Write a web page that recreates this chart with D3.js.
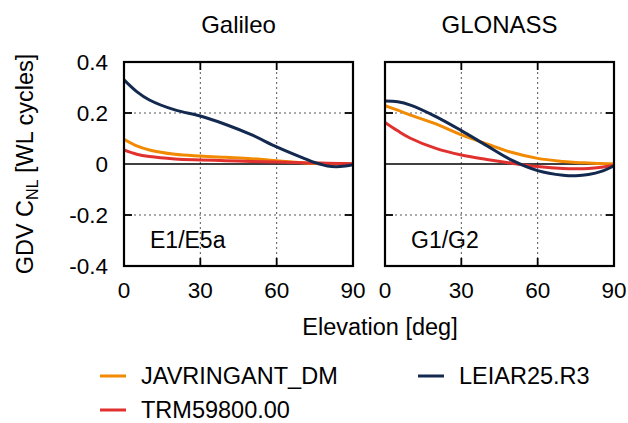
<!DOCTYPE html>
<html lang="en">
<head>
<meta charset="UTF-8">
<title>GDV CNL</title>
<style>
  body { margin: 0; background: #fff; }
  text { font-family: "Liberation Sans", Arial, sans-serif; fill: #000; }
</style>
</head>
<body>
<svg id="chart" width="628" height="423"></svg>
<script src="https://d3js.org/d3.v7.min.js"></script>
<script>
// elevation samples [deg]
var elev = [0, 5, 10, 20, 30, 40, 50, 60, 70, 75, 80, 85, 90];

// Galileo E1/E5a
var galJav  = [0.097, 0.071, 0.055, 0.038, 0.031, 0.026, 0.021, 0.013, 0.005, 0.002, 0.000, 0.000, 0.000];
var galTrm  = [0.055, 0.038, 0.029, 0.020, 0.016, 0.013, 0.010, 0.008, 0.005, 0.004, 0.003, 0.002, 0.001];
var galLeia = [0.330, 0.284, 0.251, 0.212, 0.188, 0.155, 0.115, 0.067, 0.025, 0.006, -0.008, -0.010, -0.003];

// GLONASS G1/G2
var gloJav  = [0.229, 0.211, 0.192, 0.157, 0.114, 0.079, 0.045, 0.022, 0.010, 0.006, 0.004, 0.002, 0.001];
var gloTrm  = [0.163, 0.130, 0.101, 0.061, 0.035, 0.018, 0.003, -0.010, -0.018, -0.019, -0.018, -0.013, -0.005];
var gloLeia = [0.247, 0.244, 0.231, 0.186, 0.131, 0.072, 0.014, -0.026, -0.044, -0.046, -0.041, -0.029, -0.007];

var panels = [
  { title: "Galileo", label: "E1/E5a", series: [galJav, galTrm, galLeia], x0: 124, lx: 150 },
  { title: "GLONASS", label: "G1/G2", series: [gloJav, gloTrm, gloLeia], x0: 385, lx: 411 }
];
var names  = ["JAVRINGANT_DM", "TRM59800.00", "LEIAR25.R3"];
var colors = ["#f18a00", "#e0312f", "#13294f"];
var xTicks = [0, 30, 60, 90];
var yTicks = [-0.4, -0.2, 0, 0.2, 0.4];

var svg = d3.select("#chart");
var pw = 229, pTop = 62, pBot = 266, tk = 8;

var y = d3.scaleLinear().domain([-0.4, 0.4]).range([pBot, pTop]);

panels.forEach(function(p, i) {
  var x = d3.scaleLinear().domain([0, 90]).range([p.x0, p.x0 + pw]);
  var g = svg.append("g");

  // dashed grid
  g.selectAll(".gx").data([30, 60]).enter().append("line")
    .attr("x1", d => x(d)).attr("x2", d => x(d))
    .attr("y1", pTop).attr("y2", pBot)
    .attr("stroke", "#444").attr("stroke-width", 0.9).attr("stroke-dasharray", "2,3");
  g.selectAll(".gy").data([-0.2, 0.2]).enter().append("line")
    .attr("x1", p.x0).attr("x2", p.x0 + pw)
    .attr("y1", d => y(d)).attr("y2", d => y(d))
    .attr("stroke", "#444").attr("stroke-width", 0.9).attr("stroke-dasharray", "2,3");

  // inward ticks on all four sides
  [30, 60].forEach(function(t) {
    g.append("line").attr("x1", x(t)).attr("x2", x(t)).attr("y1", pTop).attr("y2", pTop + tk).attr("stroke", "#000").attr("stroke-width", 1.8);
    g.append("line").attr("x1", x(t)).attr("x2", x(t)).attr("y1", pBot).attr("y2", pBot - tk).attr("stroke", "#000").attr("stroke-width", 1.8);
  });
  [-0.2, 0.2].forEach(function(t) {
    g.append("line").attr("x1", p.x0).attr("x2", p.x0 + tk).attr("y1", y(t)).attr("y2", y(t)).attr("stroke", "#000").attr("stroke-width", 1.8);
    g.append("line").attr("x1", p.x0 + pw).attr("x2", p.x0 + pw - tk).attr("y1", y(t)).attr("y2", y(t)).attr("stroke", "#000").attr("stroke-width", 1.8);
  });

  // zero line
  g.append("line").attr("x1", p.x0).attr("x2", p.x0 + pw)
    .attr("y1", y(0)).attr("y2", y(0)).attr("stroke", "#000").attr("stroke-width", 1.5);

  svg.append("clipPath").attr("id", "clip" + i).append("rect")
    .attr("x", p.x0).attr("y", pTop).attr("width", pw).attr("height", pBot - pTop);

  var line = d3.line()
    .x((d, k) => x(elev[k]))
    .y(d => y(d))
    .curve(d3.curveCatmullRom.alpha(0.5));

  p.series.forEach(function(s, k) {
    g.append("path").datum(s)
      .attr("clip-path", "url(#clip" + i + ")")
      .attr("fill", "none")
      .attr("stroke", colors[k])
      .attr("stroke-width", 3)
      .attr("d", line);
  });

  // frame
  g.append("rect").attr("x", p.x0).attr("y", pTop).attr("width", pw).attr("height", pBot - pTop)
    .attr("fill", "none").attr("stroke", "#000").attr("stroke-width", 2.2);

  // x tick labels
  g.selectAll(".xl").data(xTicks).enter().append("text")
    .attr("x", d => x(d)).attr("y", 298)
    .attr("text-anchor", "middle").attr("font-size", 22.5)
    .text(d => d);

  // panel title
  g.append("text").attr("x", p.x0 + pw / 2).attr("y", 33)
    .attr("text-anchor", "middle").attr("font-size", 24).text(p.title);

  // signal label
  g.append("text").attr("x", p.lx).attr("y", 248)
    .attr("font-size", 23).text(p.label);
});

// y tick labels (plain hyphen for negatives)
svg.selectAll(".yl").data(yTicks).enter().append("text")
  .attr("x", 108).attr("y", d => y(d) + 8)
  .attr("text-anchor", "end").attr("font-size", 22.5)
  .text(d => d === 0 ? "0" : d.toFixed(1));

// y axis title
var yt = svg.append("text")
  .attr("transform", "translate(33,164) rotate(-90)")
  .attr("text-anchor", "middle").attr("font-size", 23.5);
yt.append("tspan").text("GDV C");
yt.append("tspan").attr("font-size", 16).attr("dy", 5).text("NL");
yt.append("tspan").attr("dy", -5).text(" [WL cycles]");

// x axis title
svg.append("text").attr("x", 380).attr("y", 335)
  .attr("text-anchor", "middle").attr("font-size", 23.5).text("Elevation [deg]");

// legend
var legPos = [[100, 376], [100, 410], [418, 376]];
names.forEach(function(n, k) {
  var lp = legPos[k];
  svg.append("line").attr("x1", lp[0]).attr("x2", lp[0] + 26)
    .attr("y1", lp[1]).attr("y2", lp[1])
    .attr("stroke", colors[k]).attr("stroke-width", 3);
  svg.append("text").attr("x", lp[0] + 41).attr("y", lp[1] + 8)
    .attr("font-size", 23.5).text(n);
});
</script>
</body>
</html>
